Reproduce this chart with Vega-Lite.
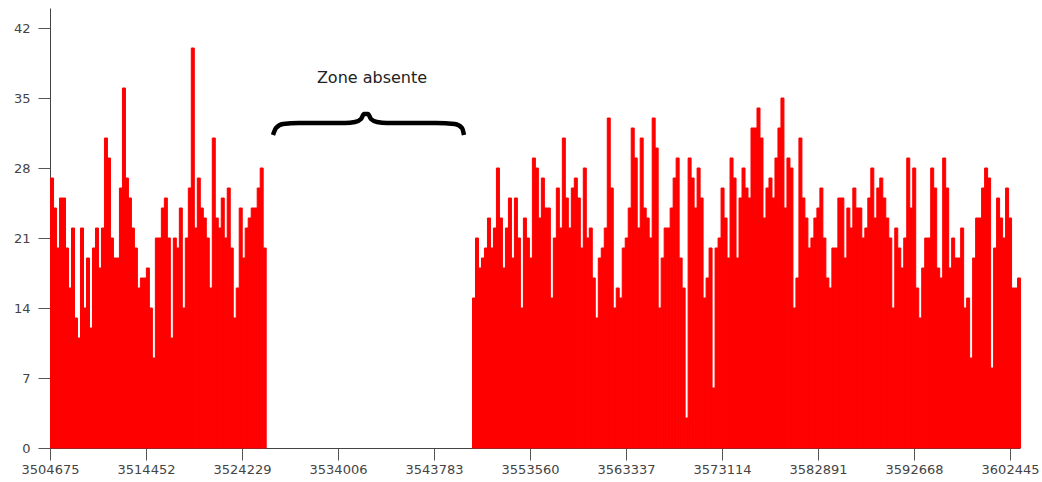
{
  "$schema": "https://vega.github.io/schema/vega-lite/v6.json",
  "width": 970,
  "height": 440,
  "autosize": {"type": "none"},
  "padding": {"left": 50, "top": 8, "right": 22, "bottom": 34},
  "background": "white",
  "config": {
    "view": {"stroke": null},
    "font": "DejaVu Sans",
    "axis": {
      "domainColor": "#444",
      "tickColor": "#555",
      "labelColor": "#444",
      "labelFont": "DejaVu Sans",
      "labelFontSize": 13,
      "grid": false,
      "title": null,
      "tickSize": 12
    }
  },
  "datasets": {
    "coverage": [
      {"p":3504680,"c":27},{"p":3504985,"c":24},{"p":3505290,"c":20},{"p":3505595,"c":25},{"p":3505900,"c":25},{"p":3506205,"c":20},{"p":3506510,"c":16},{"p":3506815,"c":22},{"p":3507120,"c":13},{"p":3507425,"c":11},
      {"p":3507730,"c":22},{"p":3508035,"c":14},{"p":3508340,"c":19},{"p":3508645,"c":12},{"p":3508950,"c":20},{"p":3509255,"c":22},{"p":3509560,"c":18},{"p":3509865,"c":22},{"p":3510170,"c":31},{"p":3510475,"c":29},
      {"p":3510780,"c":21},{"p":3511085,"c":19},{"p":3511390,"c":19},{"p":3511695,"c":26},{"p":3512000,"c":36},{"p":3512305,"c":27},{"p":3512610,"c":25},{"p":3512915,"c":22},{"p":3513220,"c":20},{"p":3513525,"c":16},
      {"p":3513830,"c":17},{"p":3514135,"c":17},{"p":3514440,"c":18},{"p":3514745,"c":14},{"p":3515050,"c":9},{"p":3515355,"c":21},{"p":3515660,"c":21},{"p":3515965,"c":24},{"p":3516270,"c":25},{"p":3516575,"c":21},
      {"p":3516880,"c":11},{"p":3517185,"c":21},{"p":3517490,"c":20},{"p":3517795,"c":24},{"p":3518100,"c":14},{"p":3518405,"c":21},{"p":3518710,"c":26},{"p":3519015,"c":40},{"p":3519320,"c":22},{"p":3519625,"c":27},
      {"p":3519930,"c":24},{"p":3520235,"c":23},{"p":3520540,"c":21},{"p":3520845,"c":16},{"p":3521150,"c":31},{"p":3521455,"c":23},{"p":3521760,"c":22},{"p":3522065,"c":25},{"p":3522370,"c":21},{"p":3522675,"c":26},
      {"p":3522980,"c":20},{"p":3523285,"c":13},{"p":3523590,"c":16},{"p":3523895,"c":24},{"p":3524200,"c":19},{"p":3524505,"c":22},{"p":3524810,"c":23},{"p":3525115,"c":24},{"p":3525420,"c":24},{"p":3525725,"c":26},
      {"p":3526030,"c":28},{"p":3526335,"c":20},
      {"p":3547650,"c":15},{"p":3547955,"c":21},{"p":3548260,"c":18},{"p":3548565,"c":19},{"p":3548870,"c":20},{"p":3549175,"c":23},{"p":3549480,"c":20},{"p":3549785,"c":22},{"p":3550090,"c":28},{"p":3550395,"c":23},
      {"p":3550700,"c":18},{"p":3551005,"c":22},{"p":3551310,"c":25},{"p":3551615,"c":19},{"p":3551920,"c":25},{"p":3552225,"c":21},{"p":3552530,"c":14},{"p":3552835,"c":23},{"p":3553140,"c":21},{"p":3553445,"c":19},
      {"p":3553750,"c":29},{"p":3554055,"c":28},{"p":3554360,"c":23},{"p":3554665,"c":27},{"p":3554970,"c":24},{"p":3555275,"c":24},{"p":3555580,"c":15},{"p":3555885,"c":21},{"p":3556190,"c":26},{"p":3556495,"c":22},
      {"p":3556800,"c":31},{"p":3557105,"c":25},{"p":3557410,"c":22},{"p":3557715,"c":26},{"p":3558020,"c":27},{"p":3558325,"c":25},
      {"p":3558630,"c":20},{"p":3558935,"c":28},{"p":3559240,"c":21},{"p":3559545,"c":22},{"p":3559850,"c":17},{"p":3560155,"c":13},{"p":3560460,"c":19},{"p":3560765,"c":20},{"p":3561070,"c":22},{"p":3561375,"c":33},
      {"p":3561680,"c":26},{"p":3561985,"c":14},{"p":3562290,"c":16},{"p":3562595,"c":15},{"p":3562900,"c":20},{"p":3563205,"c":21},{"p":3563510,"c":24},{"p":3563815,"c":32},{"p":3564120,"c":29},{"p":3564425,"c":22},
      {"p":3564730,"c":31},{"p":3565035,"c":24},{"p":3565340,"c":23},{"p":3565645,"c":21},{"p":3565950,"c":33},{"p":3566255,"c":30},{"p":3566560,"c":14},{"p":3566865,"c":19},{"p":3567170,"c":22},{"p":3567475,"c":22},
      {"p":3567780,"c":24},{"p":3568085,"c":27},{"p":3568390,"c":29},{"p":3568695,"c":19},{"p":3569000,"c":16},{"p":3569305,"c":3},
      {"p":3569610,"c":29},{"p":3569915,"c":27},{"p":3570220,"c":24},{"p":3570525,"c":28},{"p":3570830,"c":25},{"p":3571135,"c":15},{"p":3571440,"c":17},{"p":3571745,"c":20},{"p":3572050,"c":6},{"p":3572355,"c":20},
      {"p":3572660,"c":21},{"p":3572965,"c":26},{"p":3573270,"c":23},{"p":3573575,"c":19},{"p":3573880,"c":29},{"p":3574185,"c":27},{"p":3574490,"c":19},{"p":3574795,"c":25},{"p":3575100,"c":28},{"p":3575405,"c":26},
      {"p":3575710,"c":25},{"p":3576015,"c":32},{"p":3576320,"c":32},{"p":3576625,"c":34},{"p":3576930,"c":31},{"p":3577235,"c":23},{"p":3577540,"c":26},{"p":3577845,"c":27},{"p":3578150,"c":25},{"p":3578455,"c":29},
      {"p":3578760,"c":32},{"p":3579065,"c":35},{"p":3579370,"c":24},{"p":3579675,"c":29},{"p":3579980,"c":28},{"p":3580285,"c":14},
      {"p":3580590,"c":17},{"p":3580895,"c":31},{"p":3581200,"c":25},{"p":3581505,"c":23},{"p":3581810,"c":20},{"p":3582115,"c":21},{"p":3582420,"c":23},{"p":3582725,"c":24},{"p":3583030,"c":26},{"p":3583335,"c":21},
      {"p":3583640,"c":17},{"p":3583945,"c":16},{"p":3584250,"c":20},{"p":3584555,"c":20},{"p":3584860,"c":25},{"p":3585165,"c":25},{"p":3585470,"c":19},{"p":3585775,"c":24},{"p":3586080,"c":22},{"p":3586385,"c":26},
      {"p":3586690,"c":24},{"p":3586995,"c":24},{"p":3587300,"c":21},{"p":3587605,"c":22},{"p":3587910,"c":25},{"p":3588215,"c":28},{"p":3588520,"c":23},{"p":3588825,"c":26},{"p":3589130,"c":27},{"p":3589435,"c":25},
      {"p":3589740,"c":23},{"p":3590045,"c":21},{"p":3590350,"c":14},{"p":3590655,"c":22},{"p":3590960,"c":20},{"p":3591265,"c":18},
      {"p":3591570,"c":21},{"p":3591875,"c":29},{"p":3592180,"c":24},{"p":3592485,"c":28},{"p":3592790,"c":16},{"p":3593095,"c":13},{"p":3593400,"c":18},{"p":3593705,"c":21},{"p":3594010,"c":21},{"p":3594315,"c":28},
      {"p":3594620,"c":26},{"p":3594925,"c":18},{"p":3595230,"c":17},{"p":3595535,"c":29},{"p":3595840,"c":26},{"p":3596145,"c":18},{"p":3596450,"c":21},{"p":3596755,"c":19},{"p":3597060,"c":19},{"p":3597365,"c":22},
      {"p":3597670,"c":14},{"p":3597975,"c":15},{"p":3598280,"c":9},{"p":3598585,"c":19},{"p":3598890,"c":23},{"p":3599195,"c":23},{"p":3599500,"c":26},{"p":3599805,"c":28},{"p":3600110,"c":27},{"p":3600415,"c":8},
      {"p":3600720,"c":20},{"p":3601025,"c":25},{"p":3601330,"c":23},{"p":3601635,"c":21},{"p":3601940,"c":26},{"p":3602245,"c":23},{"p":3602550,"c":16},{"p":3602855,"c":16},{"p":3603160,"c":17}
    ],
    "brace": [
      {"p":3527385,"v":31.3,"o":1},
      {"p":3527691,"v":32.0,"o":2},
      {"p":3528400,"v":32.4,"o":3},
      {"p":3530000,"v":32.5,"o":4},
      {"p":3534718,"v":32.5,"o":5},
      {"p":3535736,"v":32.6,"o":6},
      {"p":3536347,"v":32.9,"o":7},
      {"p":3536652,"v":33.4,"o":8},
      {"p":3537060,"v":33.4,"o":9},
      {"p":3537366,"v":32.9,"o":10},
      {"p":3537977,"v":32.6,"o":11},
      {"p":3538995,"v":32.5,"o":12},
      {"p":3544000,"v":32.5,"o":13},
      {"p":3545900,"v":32.4,"o":14},
      {"p":3546633,"v":32.0,"o":15},
      {"p":3546837,"v":31.3,"o":16}
    ],
    "note": [
      {"p":3537467,"v":37,"t":"Zone absente"}
    ]
  },
  "layer": [
    {
      "data": {"name": "coverage"},
      "mark": {"type": "bar", "color": "#ff0000", "binSpacing": 0, "stroke": "#ff0000", "strokeWidth": 1},
      "encoding": {
        "x": {
          "field": "p",
          "type": "quantitative",
          "bin": {"binned": true, "step": 305},
          "scale": {"domain": [3504675, 3603460], "nice": false, "zero": false},
          "axis": {
            "values": [3504675, 3514452, 3524229, 3534006, 3543783, 3553560, 3563337, 3573114, 3582891, 3592668, 3602445],
            "format": "d",
            "labelPadding": 3,
            "labelFlush": false,
            "labelOverlap": false
          }
        },
        "y": {
          "field": "c",
          "type": "quantitative",
          "scale": {"domain": [0, 44], "nice": false},
          "axis": {
            "values": [0, 7, 14, 21, 28, 35, 42],
            "labelPadding": 8
          }
        }
      }
    },
    {
      "data": {"name": "brace"},
      "mark": {"type": "line", "color": "black", "strokeWidth": 4.5, "interpolate": "monotone", "strokeCap": "butt", "strokeJoin": "round"},
      "encoding": {
        "x": {"field": "p", "type": "quantitative"},
        "y": {"field": "v", "type": "quantitative"},
        "order": {"field": "o"}
      }
    },
    {
      "data": {"name": "note"},
      "mark": {"type": "text", "fontSize": 16, "font": "DejaVu Sans", "color": "#222", "align": "center", "baseline": "middle"},
      "encoding": {
        "x": {"field": "p", "type": "quantitative"},
        "y": {"field": "v", "type": "quantitative"},
        "text": {"field": "t"}
      }
    }
  ]
}
